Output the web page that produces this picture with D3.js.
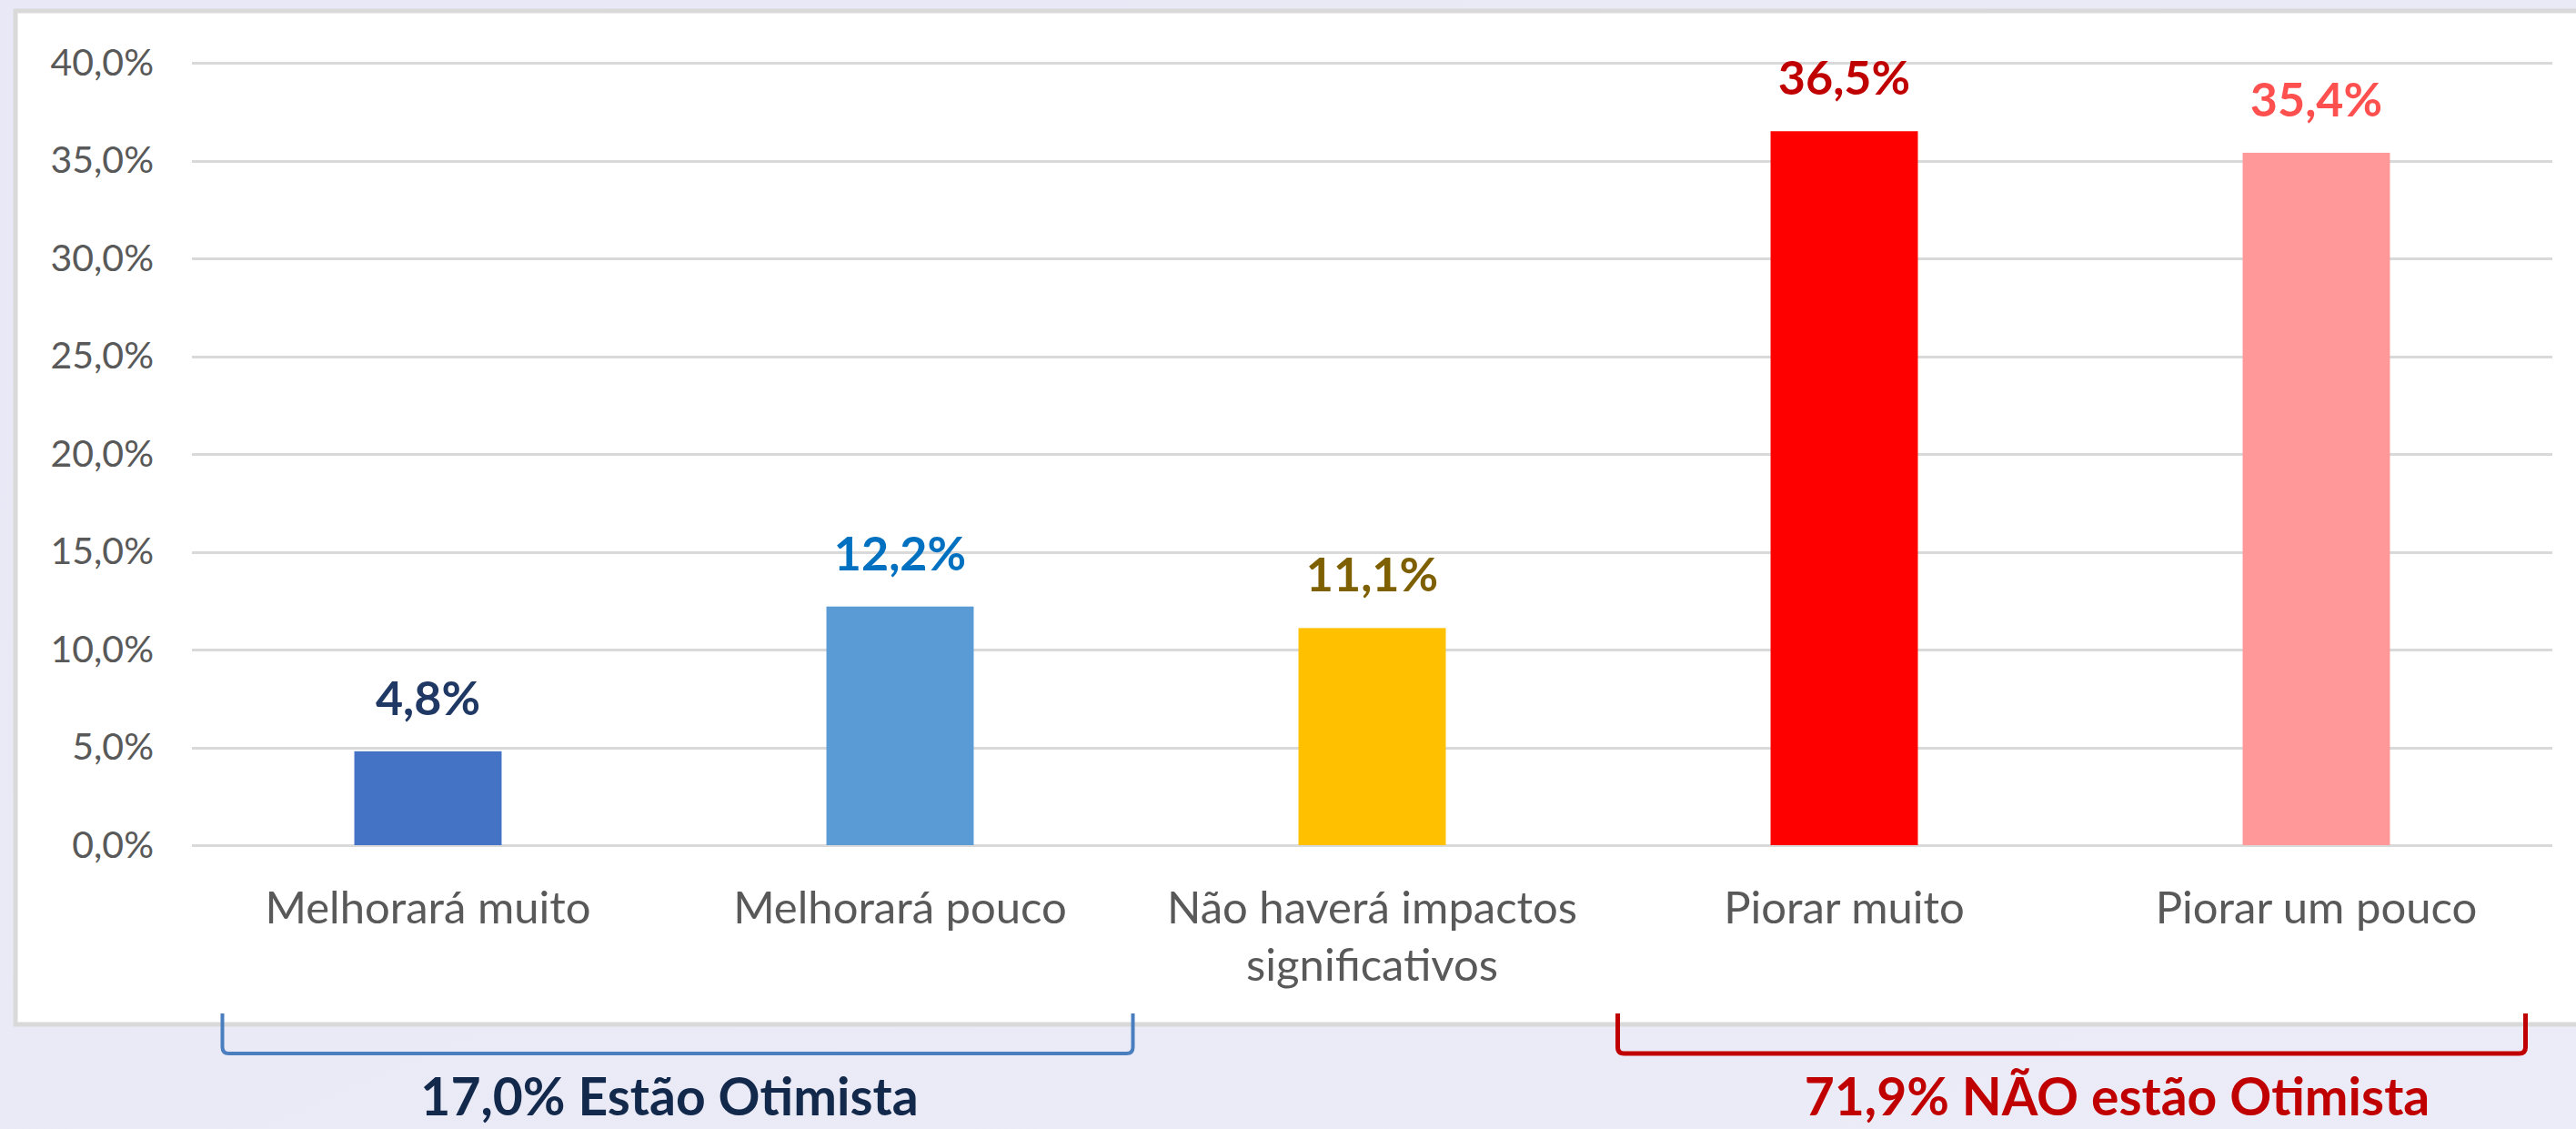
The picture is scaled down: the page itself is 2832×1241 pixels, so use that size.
<!DOCTYPE html>
<meta charset="utf-8">

<!-- Load d3.js -->
<script src="https://d3js.org/d3.v7.min.js"></script>

<div id="chart"></div>

<style>
body {
    margin: 0;
    background: #eaeaf6;
}

text {
    font-family: Lato, "Open Sans", sans-serif;
}

.grid line {
    stroke: #d9d9d9;
    stroke-width: 3;
    shape-rendering: crispEdges;
}

.grid path {
    stroke-width: 0;
}
</style>
<script>
// data
var categories = ["Melhorará muito", "Melhorará pouco", "Não haverá impactos significativos", "Piorar muito", "Piorar um pouco"];
var values = [4.8, 12.2, 11.1, 36.5, 35.4];
var barColors = ["#4472c4", "#5b9bd5", "#ffc000", "#ff0000", "#ff9999"];
var labelColors = ["#203864", "#0070c0", "#7f6000", "#c00000", "#ff5050"];
var yTicks = [0, 5, 10, 15, 20, 25, 30, 35, 40];

// the two brackets under the axis
var groupText = ["17,0% Estão Otimista", "71,9% NÃO estão Otimista"];
var groupFrom = [0, 3];
var groupTo = [1, 4];
var groupColors = ["#4a7ebf", "#c00000"];
var groupTextColors = ["#13294b", "#c00000"];

var W = 2832, H = 1241;

var margin = {top: 69, left: 211, right: 26, bottom: 312};
var width = W - margin.left - margin.right,
    height = H - margin.top - margin.bottom;

var br = d3.formatLocale({decimal: ",", thousands: ".", grouping: [3], currency: ["R$", ""]});
var fmt = br.format(".1f");
function pct(d) { return fmt(d) + "%"; }

var svg = d3.select("#chart")
    .append("svg")
    .attr("width", W)
    .attr("height", H);

// background + white panel
var defs = svg.append("defs");
var grad = defs.append("linearGradient")
    .attr("id", "bg")
    .attr("x1", 0).attr("y1", 0).attr("x2", 1).attr("y2", 1);
grad.append("stop").attr("offset", "0%").attr("stop-color", "#e8e8f6");
grad.append("stop").attr("offset", "100%").attr("stop-color", "#ececf8");

svg.append("rect")
    .attr("width", W).attr("height", H)
    .attr("fill", "url(#bg)");

svg.append("rect")
    .attr("x", 17).attr("y", 12)
    .attr("width", W).attr("height", 1114)
    .attr("fill", "#ffffff")
    .attr("stroke", "#d9d9d9")
    .attr("stroke-width", 5);

var g = svg.append("g")
    .attr("transform", "translate(" + margin.left + "," + margin.top + ")");

// scales
var x = d3.scaleBand()
    .domain(categories)
    .range([0, width])
    .paddingInner(0.688)
    .paddingOuter(0.344);

var y = d3.scaleLinear()
    .domain([0, 40])
    .range([height, 0]);

// gridlines
g.append("g")
    .attr("class", "grid")
    .call(d3.axisLeft(y)
        .tickValues(yTicks)
        .tickSize(-width)
        .tickFormat(""));

// y tick labels
g.append("g")
    .attr("transform", "translate(-42,0)")
    .call(d3.axisLeft(y).tickValues(yTicks).tickSize(0).tickPadding(0).tickFormat(pct))
    .call(a => a.select(".domain").remove())
    .attr("font-family", null)
    .attr("font-size", null)
    .selectAll("text")
    .attr("fill", "#595959")
    .style("font-size", "41px");

// bars
g.selectAll(".bar")
    .data(values)
    .enter()
    .append("rect")
    .attr("class", "bar")
    .attr("x", function(d, i) { return x(categories[i]); })
    .attr("width", x.bandwidth())
    .attr("y", function(d) { return y(d); })
    .attr("height", function(d) { return y(0) - y(d); })
    .attr("fill", function(d, i) { return barColors[i]; });

// value labels
g.selectAll(".val")
    .data(values)
    .enter()
    .append("text")
    .attr("class", "val")
    .attr("x", function(d, i) { return x(categories[i]) + x.bandwidth() / 2; })
    .attr("y", function(d) { return y(d) - 40; })
    .attr("text-anchor", "middle")
    .attr("fill", function(d, i) { return labelColors[i]; })
    .style("font-size", "52px")
    .style("font-weight", "bold")
    .text(pct);

// category axis
var xAxis = g.append("g")
    .attr("transform", "translate(0," + height + ")")
    .call(d3.axisBottom(x).tickSize(0))
    .call(a => a.select(".domain").remove())
    .attr("font-family", null)
    .attr("font-size", null);

xAxis.selectAll("text")
    .attr("y", 86)
    .attr("dy", null)
    .attr("fill", "#595959")
    .style("font-size", "49px")
    .call(wrap, 480);

function wrap(texts, maxW) {
    texts.each(function() {
        var t = d3.select(this),
            words = t.text().split(/\s+/),
            line = [],
            lineNo = 0,
            tspan = t.text(null).append("tspan").attr("x", 0).attr("y", 86);
        words.forEach(function(w) {
            line.push(w);
            tspan.text(line.join(" "));
            if (tspan.node().getComputedTextLength() > maxW && line.length > 1) {
                line.pop();
                tspan.text(line.join(" "));
                line = [w];
                lineNo++;
                tspan = t.append("tspan").attr("x", 0).attr("y", 86 + lineNo * 63).text(w);
            }
        });
    });
}

// brackets
var top0 = 1114 - margin.top, bot0 = 1158 - margin.top, r = 7;
var padL = [226, 249], padR = [256, 230];
groupText.forEach(function(txt, k) {
    var x0 = x(categories[groupFrom[k]]) + x.bandwidth() / 2 - padL[k],
        x1 = x(categories[groupTo[k]]) + x.bandwidth() / 2 + padR[k];
    g.append("path")
        .attr("d", "M" + x0 + "," + top0 + "V" + (bot0 - r) +
            "Q" + x0 + "," + bot0 + " " + (x0 + r) + "," + bot0 +
            "H" + (x1 - r) +
            "Q" + x1 + "," + bot0 + " " + x1 + "," + (bot0 - r) +
            "V" + top0)
        .attr("fill", "none")
        .attr("stroke", groupColors[k])
        .attr("stroke-width", k == 0 ? 4 : 5);

    var mid = k == 0 ? (x0 + x1) / 2 - 9 : (x0 + x1) / 2 + 50;
    g.append("text")
        .attr("x", mid)
        .attr("y", 1226 - margin.top)
        .attr("text-anchor", "middle")
        .attr("fill", groupTextColors[k])
        .style("font-size", "57px")
        .style("font-weight", "bold")
        .text(txt);
});
</script>
